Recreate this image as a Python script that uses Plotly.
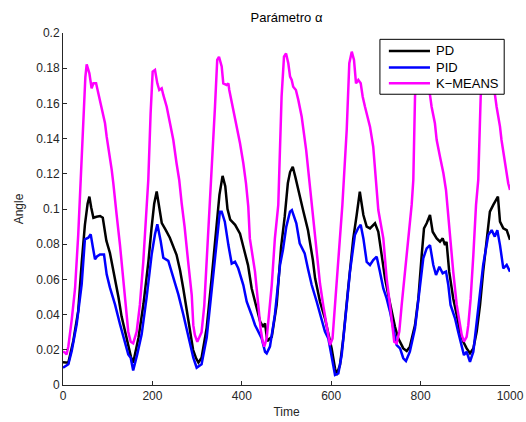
import plotly.graph_objects as go

# PD controller response
pd_time = [0, 12, 23, 34, 42, 49, 55, 59, 63, 68, 75, 83, 89, 97, 105, 112, 124, 131, 139, 146, 152, 157,
           163, 169, 180, 191, 198, 204, 209.6, 215, 221, 230, 239, 254, 262, 269, 280, 291, 298, 303, 310,
           321.5, 332.7, 343.8, 350, 357, 363, 368, 374, 385, 396, 404, 414, 422, 433, 441, 448, 452, 457,
           467, 478, 488, 496, 503, 508, 514, 520, 526, 537, 548, 555.5, 559, 564, 575, 586, 593.5, 601,
           608.5, 612, 619.7, 627, 638, 649.4, 657, 664, 672, 679.4, 686.8, 698, 705.4, 713, 720.4, 727.7,
           735, 742.7, 750, 761.3, 768.9, 776, 787.5, 795, 802.5, 807.6, 813.6, 821, 827, 836, 843.4, 849.4,
           854.6, 858, 864, 873, 880.8, 888, 895.5, 903, 910.5, 918, 925.5, 933, 940, 948, 955, 962.6, 968,
           973, 977.6, 985, 992.6, 1000]
pd_angle = [0.013, 0.0127, 0.025, 0.042, 0.07, 0.091, 0.103, 0.107, 0.101, 0.095, 0.0956, 0.096, 0.095,
            0.082, 0.075, 0.066, 0.05, 0.039, 0.03, 0.021, 0.016, 0.0127, 0.019, 0.027, 0.046, 0.07, 0.089,
            0.103, 0.110, 0.101, 0.092, 0.088, 0.0837, 0.074, 0.065, 0.055, 0.037, 0.02, 0.015, 0.0127, 0.0155,
            0.0326, 0.061, 0.0894, 0.108, 0.1188, 0.113, 0.1, 0.094, 0.091, 0.086, 0.078, 0.068, 0.055, 0.0436,
            0.036, 0.033, 0.035, 0.025, 0.0274, 0.0455, 0.0786, 0.0956, 0.1146, 0.121, 0.124, 0.118, 0.1108,
            0.0994, 0.088, 0.0767, 0.071, 0.0606, 0.0473, 0.0379, 0.0294, 0.0208, 0.0095, 0.0057, 0.0114,
            0.0265, 0.055, 0.0833, 0.0966, 0.1098, 0.0966, 0.090, 0.089, 0.0919, 0.0871, 0.0739, 0.0606,
            0.0511, 0.0417, 0.0331, 0.0265, 0.0208, 0.0193, 0.0218, 0.034, 0.0492, 0.0739, 0.089, 0.0919,
            0.0966, 0.0871, 0.0833, 0.0814, 0.0833, 0.0795, 0.0814, 0.0644, 0.0492, 0.0398, 0.0303, 0.0246,
            0.0208, 0.018, 0.0208, 0.0303, 0.0455, 0.0644, 0.0833, 0.0985, 0.1023, 0.105, 0.107, 0.0928,
            0.089, 0.088, 0.0825]

# PID controller response
pid_time = [0, 12, 19.5, 30.6, 41.8, 49, 56.6, 62, 67, 71.6, 76, 82.8, 91.7, 97.7, 105, 116.3, 127.5, 138.7,
            146, 151.4, 157, 166, 176, 187, 198.4, 205.8, 211, 218.5, 224.4, 235.6, 246.8, 258, 269, 280.4,
            291.5, 299, 310, 321.5, 332.7, 343.8, 351, 355, 362, 370, 377.4, 384.8, 392, 403.4, 411, 422,
            429.5, 437, 444.5, 452, 455.7, 463, 474, 485.5, 492, 499.6, 507.8, 512, 522, 529.5, 540.7, 548,
            556.4, 567.6, 578.7, 586, 593.5, 601, 608.5, 616, 623.5, 631, 642, 653, 660, 666, 672, 679.4,
            686.8, 694, 701.8, 709, 716.6, 724, 731.5, 739, 746.5, 754, 761.3, 767.3, 776, 787.5, 797, 806,
            813.6, 821, 828.4, 834.5, 842, 849.4, 856.8, 862, 867, 877, 884, 892, 897, 903, 910.5, 918, 925.5,
            933, 940, 951.5, 959, 966, 971.6, 977.6, 985, 992.6, 1000]
pid_angle = [0.0098, 0.0118, 0.0193, 0.0345, 0.0572, 0.0828, 0.0837, 0.0856, 0.078, 0.0714, 0.073, 0.0742,
             0.0742, 0.0629, 0.0553, 0.0458, 0.0345, 0.0231, 0.0174, 0.0155, 0.0083, 0.0174, 0.0288, 0.0496,
             0.0742, 0.0856, 0.0913, 0.0818, 0.0723, 0.0705, 0.061, 0.0515, 0.0402, 0.0269, 0.0155, 0.0098,
             0.0118, 0.0269, 0.0553, 0.0837, 0.0985, 0.0985, 0.0928, 0.0795, 0.069, 0.07, 0.0663, 0.0568,
             0.0473, 0.0398, 0.0341, 0.0303, 0.0265, 0.0189, 0.018, 0.0218, 0.0398, 0.0682, 0.0767, 0.09,
             0.0985, 0.0994, 0.0919, 0.0805, 0.0748, 0.066, 0.0568, 0.0473, 0.0379, 0.0303, 0.0265, 0.0152,
             0.0057, 0.0066, 0.017, 0.036, 0.0644, 0.0852, 0.089, 0.091, 0.0833, 0.07, 0.0682, 0.071, 0.0729,
             0.0644, 0.0549, 0.0492, 0.0417, 0.0322, 0.0227, 0.0208, 0.0152, 0.0136, 0.0189, 0.0322, 0.0511,
             0.072, 0.0776, 0.0795, 0.0682, 0.0625, 0.0672, 0.0635, 0.0644, 0.0568, 0.0455, 0.0379, 0.0303,
             0.0227, 0.017, 0.0189, 0.0132, 0.0189, 0.036, 0.053, 0.0682, 0.0852, 0.088, 0.0843, 0.088, 0.0795,
             0.0663, 0.0682, 0.0644]

# K-MEANS response
km_time = [0, 4, 8, 12, 19.5, 27, 34, 40, 46, 50, 53, 59, 64, 68, 74, 79, 86.6, 94, 97.7, 105, 109, 112.6,
           116.3, 120, 127.5, 135, 142.5, 146, 151.4, 157, 164.8, 172, 179.6, 185.7, 190.8, 196, 200.6, 205.8,
           211, 215.4, 220.8, 224.4, 232, 239.4, 246.8, 254, 260, 265.5, 272, 280, 288, 291.5, 295, 300.5,
           310, 316, 321, 325, 332.7, 340, 345, 349, 355, 358.6, 366, 370, 372, 375, 381, 387, 396, 403.4,
           409.4, 414.5, 418, 429.5, 437, 442, 446.8, 450.3, 455.7, 463, 467, 474, 481.6, 489, 494.4, 499,
           504, 508, 511.6, 515, 521, 526.4, 534, 544, 555.5, 563, 569, 575, 582.3, 590, 593.5, 597.3, 603,
           608.5, 613.6, 619.7, 625, 634.7, 640.5, 646, 651, 655.5, 660.6, 666, 670.5, 675.6, 686.8, 694, 698,
           701.8, 705.4, 716.6, 724, 731.5, 737.6, 741, 746.5, 752.3, 757.7, 765, 772.5, 780, 783.7, 787.5,
           792, 796, 801, 806, 812, 817, 821, 824.6, 832, 836, 843.4, 851, 856.8, 860.6, 867, 873, 880.8,
           886.6, 892, 897, 903, 906.7, 912, 918, 924, 929, 934.4, 940, 944, 949, 955, 961, 966.4, 970, 974,
           977.6, 981, 986.6, 991, 996, 1000]
km_angle = [0.019, 0.0185, 0.0174, 0.022, 0.037, 0.055, 0.085, 0.12, 0.155, 0.175, 0.1822, 0.1771, 0.1686,
            0.1714, 0.1714, 0.1657, 0.1563, 0.1487, 0.1411, 0.1297, 0.1222, 0.1146, 0.107, 0.0966, 0.0795,
            0.0606, 0.0417, 0.0303, 0.0246, 0.0237, 0.0303, 0.0455, 0.07, 0.0947, 0.1165, 0.1544, 0.178,
            0.179, 0.1714, 0.1676, 0.1686, 0.1648, 0.1581, 0.1487, 0.1392, 0.126, 0.1165, 0.1032, 0.09, 0.07,
            0.0511, 0.034, 0.0284, 0.0246, 0.03, 0.045, 0.068, 0.082, 0.12, 0.158, 0.1847, 0.1865, 0.181,
            0.1714, 0.1705, 0.1714, 0.1676, 0.1638, 0.1581, 0.1506, 0.1373, 0.126, 0.1146, 0.1013, 0.0833,
            0.0644, 0.0455, 0.0322, 0.0246, 0.0218, 0.0265, 0.0455, 0.0568, 0.0833, 0.1023, 0.1638, 0.1865,
            0.1884, 0.1828, 0.1752, 0.1733, 0.1695, 0.1676, 0.162, 0.1524, 0.1335, 0.105, 0.0862, 0.071,
            0.0575, 0.045, 0.034, 0.0303, 0.0227, 0.0265, 0.0455, 0.0644, 0.0833, 0.1023, 0.1449, 0.1828,
            0.1894, 0.1847, 0.1714, 0.1733, 0.1714, 0.1638, 0.1581, 0.1468, 0.1354, 0.1222, 0.1127, 0.0994,
            0.0833, 0.0606, 0.0455, 0.0303, 0.0246, 0.0237, 0.0303, 0.0455, 0.0644, 0.0833, 0.1023, 0.1165,
            0.1638, 0.183, 0.186, 0.18, 0.172, 0.17, 0.168, 0.1648, 0.1581, 0.1487, 0.1392, 0.1297, 0.1203,
            0.1108, 0.0994, 0.0833, 0.0644, 0.0455, 0.036, 0.0284, 0.0246, 0.0274, 0.034, 0.0492, 0.0739,
            0.1023, 0.1165, 0.1638, 0.183, 0.186, 0.18, 0.172, 0.169, 0.1648, 0.1581, 0.1524, 0.1468, 0.1392,
            0.1297, 0.1222, 0.1146, 0.1108]

x_ticks = [0, 200, 400, 600, 800, 1000]
y_ticks = [0, 0.02, 0.04, 0.06, 0.08, 0.1, 0.12, 0.14, 0.16, 0.18, 0.2]
y_tick_labels = ["0", "0.02", "0.04", "0.06", "0.08", "0.1", "0.12", "0.14", "0.16", "0.18", "0.2"]

series_names = ["PD", "PID", "K\u2212MEANS"]
series_colors = ["#000000", "#0000FF", "#FF00FF"]
series_data = [(pd_time, pd_angle), (pid_time, pid_angle), (km_time, km_angle)]

fig = go.Figure()
for name, (t, v), color in zip(series_names, series_data, series_colors):
    fig.add_trace(go.Scatter(x=t, y=v, mode="lines", name=name, showlegend=False,
                             line=dict(color=color, width=2.5)))

# Boxed legend in the upper-right corner of the axes
box_x0, box_x1, box_y0, box_y1 = 0.709, 0.987, 0.826, 0.982
line_x0, line_x1, text_x = 0.729, 0.821, 0.829
row_y = [0.949, 0.902, 0.857]
shapes = [dict(type="rect", xref="paper", yref="paper", x0=box_x0, x1=box_x1, y0=box_y0, y1=box_y1,
               fillcolor="white", line=dict(color="#000000", width=1), layer="above")]
annotations = []
for name, color, ry in zip(series_names, series_colors, row_y):
    shapes.append(dict(type="line", xref="paper", yref="paper", x0=line_x0, x1=line_x1, y0=ry, y1=ry,
                       line=dict(color=color, width=2.5), layer="above"))
    annotations.append(dict(text=name, xref="paper", yref="paper", x=text_x, y=ry, xanchor="left",
                            yanchor="middle", showarrow=False, font=dict(size=13, color="#000000")))

axis_color = "#262626"
fig.update_layout(
    width=526, height=422,
    margin=dict(l=63, r=16, t=33, b=37),
    plot_bgcolor="white", paper_bgcolor="white",
    font=dict(family="Liberation Sans, Arial, sans-serif", size=11, color=axis_color),
    title=dict(text="Parámetro α", x=0.5, xref="paper", xanchor="center",
               y=1 - 17 / 422, yref="container", yanchor="middle",
               font=dict(size=13, color="#000000")),
    shapes=shapes,
    annotations=annotations,
)
fig.update_xaxes(range=[0, 1000], tickvals=x_ticks, ticks="inside", ticklen=4,
                 tickcolor=axis_color, showline=True, linecolor=axis_color, linewidth=1,
                 showgrid=False, zeroline=False, mirror=False, automargin=False,
                 tickfont=dict(size=12, color=axis_color),
                 title=dict(text="Time", standoff=5, font=dict(size=12, color=axis_color)))
fig.update_yaxes(range=[0, 0.2], tickvals=y_ticks, ticktext=y_tick_labels, ticks="inside", ticklen=4,
                 tickcolor=axis_color, showline=True, linecolor=axis_color, linewidth=1,
                 showgrid=False, zeroline=False, mirror=False, automargin=False,
                 tickfont=dict(size=12, color=axis_color),
                 title=dict(text="Angle", standoff=10, font=dict(size=12, color=axis_color)))

fig.write_html("out.html")
